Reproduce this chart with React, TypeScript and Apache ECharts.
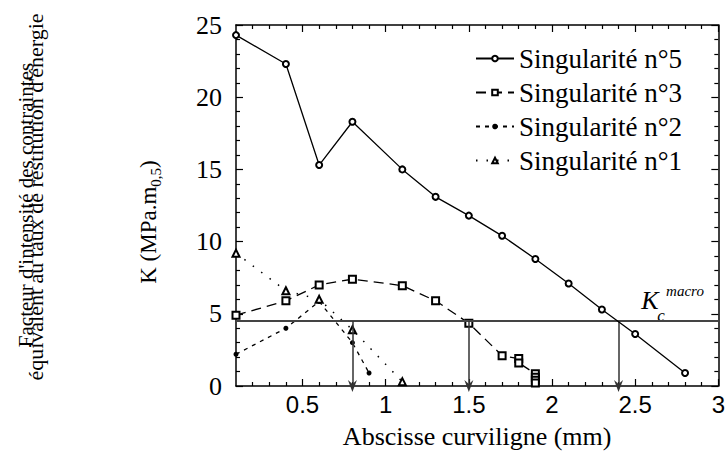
import React, { useEffect, useRef } from "react";
import * as echarts from "echarts";

// ---- data ----
const s5X = [0.1, 0.4, 0.6, 0.8, 1.1, 1.3, 1.5, 1.7, 1.9, 2.1, 2.3, 2.5, 2.8];
const s5K = [24.3, 22.3, 15.3, 18.3, 15.0, 13.1, 11.8, 10.4, 8.8, 7.1, 5.3, 3.6, 0.9];

const s3X = [0.1, 0.4, 0.6, 0.8, 1.1, 1.3, 1.5, 1.7, 1.8, 1.8, 1.9, 1.9, 1.9, 1.9];
const s3K = [4.9, 5.9, 7.0, 7.4, 6.95, 5.9, 4.35, 2.1, 1.9, 1.6, 0.85, 0.6, 0.4, 0.2];

const s2X = [0.1, 0.4, 0.6, 0.8, 0.9];
const s2K = [2.2, 4.0, 5.85, 3.0, 0.9];

const s1X = [0.1, 0.4, 0.6, 0.8, 1.1];
const s1K = [9.2, 6.6, 6.0, 3.9, 0.3];

const seriesNames = ["Singularité n°5", "Singularité n°3", "Singularité n°2", "Singularité n°1"];

const kcMacro = 4.5;
const arrowX = [0.8, 1.5, 2.4];

const xMajorTicks = [0.5, 1, 1.5, 2, 2.5, 3];
const xMinorTicks = [0.2, 0.3, 0.4, 0.6, 0.7, 0.8, 0.9, 1.1, 1.2, 1.3, 1.4, 1.6, 1.7, 1.8, 1.9, 2.1, 2.2, 2.3, 2.4, 2.6, 2.7, 2.8, 2.9];
const xMin = 0.1;
const xMax = 3;
const yMin = 0;
const yMax = 25;
const yInterval = 5;

const yTitleLine1 = "Facteur d'intensité des contraintes";
const yTitleLine2 = "équivalent au taux de restitution d'énergie";
const xTitle = "Abscisse curviligne (mm)";

const SERIF = "Liberation Serif";
const SANS = "Liberation Sans";

const zip = (xs: number[], ys: number[]) => xs.map((x, i) => [x, ys[i]]);

const arrowSymbol = "path://M5,0 L10,12 L5,8 L0,12 Z";

export default function App() {
  const ref = useRef<HTMLDivElement>(null);

  useEffect(() => {
    if (!ref.current) return;
    const chart = echarts.init(ref.current, undefined, { renderer: "svg" });

    const axisLine = { show: true, onZero: false, lineStyle: { color: "#000", width: 1.5 } };
    const tickLine = { color: "#000", width: 1.2 };

    const xAxisBase = {
      type: "value" as const,
      min: xMin,
      max: xMax,
      splitLine: { show: false },
    };
    const yAxisBase = {
      type: "value" as const,
      min: yMin,
      max: yMax,
      interval: yInterval,
      splitLine: { show: false },
      minorSplitLine: { show: false },
    };

    const option: any = {
      animation: false,
      backgroundColor: "#fff",
      textStyle: { fontFamily: SERIF },
      grid: { left: 236, top: 25, right: 9, bottom: 71, containLabel: false },
      xAxis: [
        {
          ...xAxisBase,
          position: "bottom",
          axisLine,
          axisTick: { show: true, inside: true, length: 7, customValues: xMajorTicks, lineStyle: tickLine },
          axisLabel: {
            customValues: xMajorTicks,
            fontSize: 24,
            fontFamily: SANS,
            color: "#000",
            margin: 6,
          },
          name: xTitle,
          nameLocation: "middle",
          nameGap: 37,
          nameTextStyle: { fontSize: 26, fontFamily: SERIF, color: "#000" },
        },
        {
          ...xAxisBase,
          position: "bottom",
          axisLine: { show: false, onZero: false },
          axisTick: { show: true, inside: true, length: 4, customValues: xMinorTicks, lineStyle: tickLine },
          axisLabel: { show: false },
        },
        {
          ...xAxisBase,
          position: "top",
          axisLine,
          axisTick: { show: true, inside: true, length: 7, customValues: xMajorTicks, lineStyle: tickLine },
          axisLabel: { show: false },
        },
        {
          ...xAxisBase,
          position: "top",
          axisLine: { show: false, onZero: false },
          axisTick: { show: true, inside: true, length: 4, customValues: xMinorTicks, lineStyle: tickLine },
          axisLabel: { show: false },
        },
      ],
      yAxis: [
        {
          ...yAxisBase,
          position: "left",
          axisLine,
          axisTick: { show: true, inside: true, length: 7, lineStyle: tickLine },
          minorTick: { show: true, splitNumber: 5, length: 4, lineStyle: tickLine },
          axisLabel: { fontSize: 26, fontFamily: SERIF, color: "#000", margin: 14 },
        },
        {
          ...yAxisBase,
          position: "right",
          axisLine,
          axisTick: { show: true, inside: true, length: 7, lineStyle: tickLine },
          minorTick: { show: true, splitNumber: 5, length: 4, lineStyle: tickLine },
          axisLabel: { show: false },
        },
      ],
      legend: {
        data: seriesNames,
        orient: "vertical",
        left: 475,
        top: 45,
        padding: 0,
        itemWidth: 38,
        itemHeight: 7,
        itemGap: 7,
        textStyle: { fontSize: 27, fontFamily: SERIF, color: "#000", lineHeight: 26 },
      },
      series: [
        {
          name: seriesNames[0],
          type: "line",
          data: zip(s5X, s5K),
          symbol: "emptyCircle",
          symbolSize: 6,
          lineStyle: { color: "#000", width: 1.3, type: "solid" },
          itemStyle: { color: "#000", borderColor: "#000", borderWidth: 1.2 },
          z: 5,
          markLine: {
            silent: true,
            animation: false,
            symbol: ["none", "none"],
            label: { show: false },
            emphasis: { disabled: true },
            data: [
              { yAxis: kcMacro, lineStyle: { color: "#444", width: 2, type: "solid" } },
              ...arrowX.map((x) => [
                { coord: [x, kcMacro], symbol: "none", lineStyle: { color: "#333", width: 1.5, type: "solid" } },
                { coord: [x, yMin], symbol: arrowSymbol, symbolSize: [9, 12] },
              ]),
            ],
          },
        },
        {
          name: seriesNames[1],
          type: "line",
          data: zip(s3X, s3K),
          symbol: "emptyRect",
          symbolSize: 7,
          lineStyle: { color: "#000", width: 1.3, type: [10, 6] },
          itemStyle: { color: "#000", borderColor: "#000", borderWidth: 1.2 },
        },
        {
          name: seriesNames[2],
          type: "line",
          data: zip(s2X, s2K),
          symbol: "circle",
          symbolSize: 5,
          lineStyle: { color: "#000", width: 1.3, type: [4, 5] },
          itemStyle: { color: "#000" },
        },
        {
          name: seriesNames[3],
          type: "line",
          data: zip(s1X, s1K),
          symbol: "emptyTriangle",
          symbolSize: 7,
          lineStyle: { color: "#000", width: 1.5, type: [1.5, 9] },
          itemStyle: { color: "#000", borderColor: "#000", borderWidth: 1.2 },
        },
      ],
      graphic: [
        {
          type: "text",
          x: 26,
          y: 205,
          rotation: Math.PI / 2,
          style: {
            text: yTitleLine1,
            fontSize: 21,
            fontFamily: SERIF,
            fill: "#000",
            align: "center",
            verticalAlign: "middle",
          },
        },
        {
          type: "text",
          x: 35,
          y: 197,
          rotation: Math.PI / 2,
          style: {
            text: yTitleLine2,
            fontSize: 22,
            fontFamily: SERIF,
            fill: "#000",
            align: "center",
            verticalAlign: "middle",
          },
        },
        {
          type: "text",
          x: 148,
          y: 222,
          rotation: Math.PI / 2,
          style: {
            text: "{a|K (MPa.m}{b|0,5}{a|)}",
            align: "center",
            verticalAlign: "middle",
            rich: {
              a: { fontSize: 23, fontFamily: SERIF, fill: "#000", lineHeight: 30, verticalAlign: "middle" },
              b: { fontSize: 15, fontFamily: SERIF, fill: "#000", lineHeight: 15, verticalAlign: "bottom" },
            },
          },
        },
        {
          type: "text",
          x: 650,
          y: 300,
          style: {
            text: "K",
            fontSize: 26,
            fontStyle: "italic",
            fontFamily: SERIF,
            fill: "#000",
            align: "center",
            verticalAlign: "middle",
          },
        },
        {
          type: "text",
          x: 661,
          y: 315,
          style: {
            text: "c",
            fontSize: 17,
            fontStyle: "italic",
            fontFamily: SERIF,
            fill: "#000",
            align: "center",
            verticalAlign: "middle",
          },
        },
        {
          type: "text",
          x: 685,
          y: 291,
          style: {
            text: "macro",
            fontSize: 15,
            fontStyle: "italic",
            fontFamily: SERIF,
            fill: "#000",
            align: "center",
            verticalAlign: "middle",
          },
        },
      ],
    };

    chart.setOption(option);
    return () => chart.dispose();
  }, []);

  return (
    <div
      ref={ref}
      style={{ position: "fixed", left: 0, top: 0, width: 728, height: 457, background: "#fff" }}
    />
  );
}
